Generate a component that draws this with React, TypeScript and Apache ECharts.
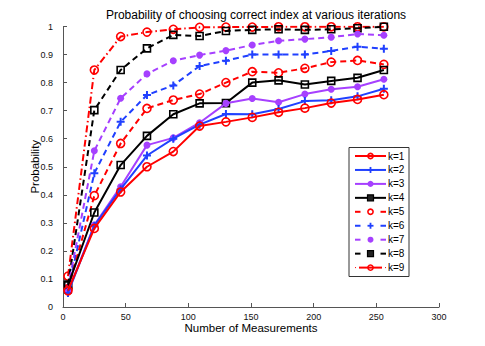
import React, { useEffect, useRef } from "react";
import * as echarts from "echarts";

const measurements = [4, 25, 46, 67, 88, 109, 130, 151, 172, 193, 214, 235, 256];
const seriesNames = ["k=1", "k=2", "k=3", "k=4", "k=5", "k=6", "k=7", "k=8", "k=9"];
const k1 = [0.058, 0.28, 0.41, 0.5, 0.554, 0.645, 0.66, 0.676, 0.694, 0.709, 0.727, 0.74, 0.757];
const k2 = [0.05, 0.29, 0.42, 0.54, 0.6, 0.65, 0.688, 0.687, 0.706, 0.734, 0.737, 0.751, 0.778];
const k3 = [0.055, 0.292, 0.429, 0.577, 0.603, 0.657, 0.726, 0.743, 0.73, 0.759, 0.776, 0.785, 0.812];
const k4 = [0.077, 0.337, 0.506, 0.61, 0.687, 0.726, 0.727, 0.8, 0.808, 0.793, 0.806, 0.817, 0.845];
const k5 = [0.065, 0.397, 0.583, 0.708, 0.738, 0.759, 0.8, 0.839, 0.835, 0.851, 0.873, 0.879, 0.865];
const k6 = [0.06, 0.477, 0.66, 0.756, 0.79, 0.859, 0.878, 0.9, 0.9, 0.9, 0.913, 0.928, 0.921];
const k7 = [0.07, 0.557, 0.744, 0.831, 0.878, 0.898, 0.914, 0.934, 0.949, 0.955, 0.962, 0.973, 0.969];
const k8 = [0.08, 0.702, 0.845, 0.922, 0.97, 0.966, 0.984, 0.988, 0.99, 0.988, 0.99, 0.994, 0.999];
const k9 = [0.11, 0.845, 0.964, 0.98, 0.99, 0.997, 0.998, 0.998, 0.999, 0.999, 0.999, 0.999, 0.999];
const allValues = [k1, k2, k3, k4, k5, k6, k7, k8, k9];

const RED = "#ff0000";
const BLUE = "#2040ff";
const PURPLE = "#a640ff";
const BLACK = "#000000";
const FONT = "Liberation Sans, Arial, Helvetica, sans-serif";

const PLUS = "path://M0,5L10,5M5,0L5,10";

type Style = { color: string; marker: string; dash: any; kind: string };
const styles: Style[] = [
  { color: RED, marker: "ocircle", dash: "solid", kind: "solid" },
  { color: BLUE, marker: "plus", dash: "solid", kind: "solid" },
  { color: PURPLE, marker: "dot", dash: "solid", kind: "solid" },
  { color: BLACK, marker: "square", dash: "solid", kind: "solid" },
  { color: RED, marker: "ocircle", dash: [6, 4], kind: "dash" },
  { color: BLUE, marker: "plus", dash: [6, 4], kind: "dash" },
  { color: PURPLE, marker: "dot", dash: [6, 4], kind: "dash" },
  { color: BLACK, marker: "square", dash: [6, 4], kind: "dash" },
  { color: RED, marker: "ocircle", dash: [7, 3, 1.5, 3], kind: "dashdot" },
];

function markerOpts(s: Style) {
  switch (s.marker) {
    case "ocircle":
      return {
        symbol: "circle",
        symbolSize: 8,
        itemStyle: { color: "rgba(255,255,255,0)", borderColor: s.color, borderWidth: 1.6 },
      };
    case "plus":
      return {
        symbol: PLUS,
        symbolSize: 8,
        itemStyle: { color: "rgba(255,255,255,0)", borderColor: s.color, borderWidth: 2 },
      };
    case "dot":
      return {
        symbol: "circle",
        symbolSize: 7,
        itemStyle: { color: s.color, borderColor: s.color, borderWidth: 0 },
      };
    default:
      return {
        symbol: "rect",
        symbolSize: 7,
        itemStyle: { color: "rgba(255,255,255,0)", borderColor: s.color, borderWidth: 1.6 },
      };
  }
}

// legend layout
const LX = 349;
const LY = 147.5;
const LW = 60;
const LH = 129;
const ROW0 = 156;
const ROWH = 13.95;
const L1 = 355;
const L2 = 386;
const MX = 370.5;

function legendMarker(s: Style, cy: number) {
  switch (s.marker) {
    case "ocircle":
      return {
        type: "circle",
        shape: { cx: MX, cy, r: 2.6 },
        style: { fill: "none", stroke: s.color, lineWidth: 1.6 },
      };
    case "plus":
      return {
        type: "group",
        children: [
          { type: "line", shape: { x1: MX - 3, y1: cy, x2: MX + 3, y2: cy }, style: { stroke: s.color, lineWidth: 1.8 } },
          { type: "line", shape: { x1: MX, y1: cy - 3, x2: MX, y2: cy + 3 }, style: { stroke: s.color, lineWidth: 1.8 } },
        ],
      };
    case "dot":
      return { type: "circle", shape: { cx: MX, cy, r: 3 }, style: { fill: s.color } };
    default:
      return {
        type: "rect",
        shape: { x: MX - 3, y: cy - 3, width: 6, height: 6 },
        style: { fill: "#222", stroke: s.color, lineWidth: 1.2 },
      };
  }
}

function legendLine(s: Style, cy: number) {
  const st = { stroke: s.color, lineWidth: 2 };
  if (s.kind === "solid") {
    return [{ type: "line", shape: { x1: L1, y1: cy, x2: L2, y2: cy }, style: st }];
  }
  if (s.kind === "dash") {
    return [
      { type: "line", shape: { x1: L1, y1: cy, x2: L1 + 5.5, y2: cy }, style: st },
      { type: "line", shape: { x1: L2 - 5.5, y1: cy, x2: L2, y2: cy }, style: st },
    ];
  }
  return [
    { type: "line", shape: { x1: L1, y1: cy, x2: L1 + 1, y2: cy }, style: { stroke: s.color, lineWidth: 1 } },
    { type: "line", shape: { x1: L1 + 4, y1: cy, x2: L2 - 4, y2: cy }, style: st },
    { type: "line", shape: { x1: L2 - 1, y1: cy, x2: L2, y2: cy }, style: { stroke: s.color, lineWidth: 1 } },
  ];
}

export default function App() {
  const ref = useRef<HTMLDivElement>(null);
  useEffect(() => {
    if (!ref.current) return;
    document.body.style.margin = "0";
    const chart = echarts.init(ref.current, null, { renderer: "svg" });
    const series = seriesNames.map((name, i) => {
      const s = styles[i];
      return {
        name,
        type: "line",
        data: measurements.map((x, j) => [x, allValues[i][j]]),
        lineStyle: { color: s.color, width: 2, type: s.dash },
        ...markerOpts(s),
        showAllSymbol: true,
        z: 10 - i,
      };
    });
    const legendChildren: any[] = [
      {
        type: "rect",
        shape: { x: LX, y: LY, width: LW, height: LH },
        style: { fill: "#fff", stroke: "#333", lineWidth: 1 },
      },
    ];
    seriesNames.forEach((name, i) => {
      const cy = ROW0 + i * ROWH;
      const s = styles[i];
      legendChildren.push(...legendLine(s, cy));
      legendChildren.push(legendMarker(s, cy));
      legendChildren.push({
        type: "text",
        x: 388,
        y: cy,
        style: {
          text: name,
          fontFamily: FONT,
          fontSize: 10,
          fill: "#000",
          verticalAlign: "middle",
          align: "left",
        },
      });
    });
    chart.setOption({
      animation: false,
      backgroundColor: "#ffffff",
      title: {
        text: "Probability of choosing correct index at various iterations",
        left: 251,
        top: 4,
        textAlign: "center",
        textStyle: { fontFamily: FONT, fontSize: 12, fontWeight: "normal", color: "#000" },
      },
      grid: { left: 63, right: 46, top: 26.5, bottom: 39, containLabel: false },
      xAxis: {
        type: "value",
        min: 0,
        max: 300,
        interval: 50,
        name: "Number of Measurements",
        nameLocation: "middle",
        nameGap: 15,
        nameMoveOverlap: false,
        nameTextStyle: { fontFamily: FONT, fontSize: 11.5, color: "#000" },
        axisLine: { show: true, lineStyle: { color: "#555", width: 1 } },
        axisTick: { show: true, inside: true, length: 4, lineStyle: { color: "#555" } },
        axisLabel: { fontFamily: FONT, fontSize: 9, color: "#111", margin: 5 },
        splitLine: { show: false },
      },
      yAxis: {
        type: "value",
        min: 0,
        max: 1,
        interval: 0.1,
        name: "Probability",
        nameLocation: "middle",
        nameGap: 22,
        nameMoveOverlap: false,
        nameRotate: 90,
        nameTextStyle: { fontFamily: FONT, fontSize: 11.5, color: "#000" },
        axisLine: { show: true, lineStyle: { color: "#555", width: 1 } },
        axisTick: { show: true, inside: true, length: 4, lineStyle: { color: "#555" } },
        axisLabel: { fontFamily: FONT, fontSize: 9, color: "#111", margin: 10 },
        splitLine: { show: false },
      },
      graphic: [{ type: "group", z: 100, children: legendChildren }],
      series,
    });
    return () => chart.dispose();
  }, []);
  return <div ref={ref} style={{ width: 485, height: 346 }} />;
}
